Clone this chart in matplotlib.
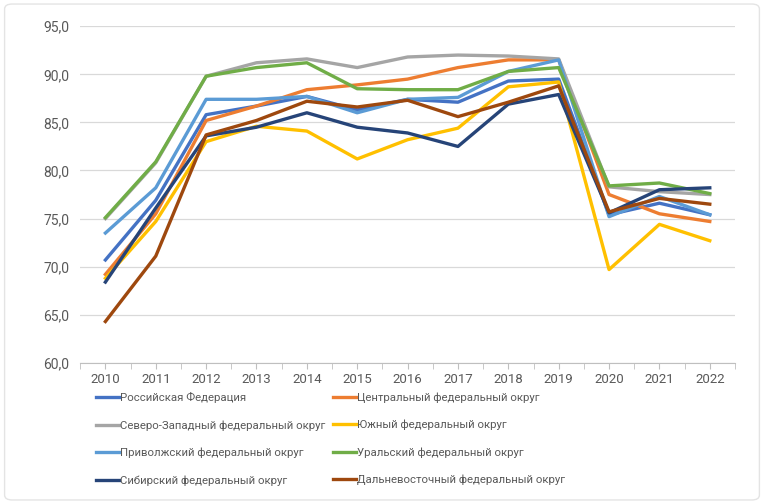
import matplotlib
matplotlib.use("Agg")
import matplotlib.pyplot as plt
from matplotlib.patches import FancyBboxPatch
from matplotlib.ticker import FuncFormatter, MultipleLocator
import numpy as np

plt.rcParams['font.family'] = ['Roboto', 'DejaVu Sans']

years = list(range(2010, 2023))

rf = [70.7, 76.9, 85.8, 86.7, 87.7, 86.3, 87.4, 87.1, 89.3, 89.5, 75.4, 76.6, 75.4]
central = [69.2, 75.5, 85.2, 86.7, 88.4, 88.9, 89.5, 90.7, 91.5, 91.5, 77.5, 75.5, 74.7]
nw = [75.0, 80.8, 89.8, 91.2, 91.6, 90.7, 91.8, 92.0, 91.9, 91.6, 78.3, 77.8, 77.5]
south = [68.8, 74.7, 83.0, 84.6, 84.1, 81.2, 83.2, 84.4, 88.7, 89.2, 69.7, 74.4, 72.7]
volga = [73.5, 78.2, 87.4, 87.4, 87.7, 86.0, 87.4, 87.6, 90.3, 91.5, 75.2, 77.3, 75.4]
ural = [75.1, 80.9, 89.8, 90.7, 91.2, 88.5, 88.4, 88.4, 90.3, 90.7, 78.4, 78.7, 77.6]
siberia = [68.4, 76.1, 83.6, 84.5, 86.0, 84.5, 83.9, 82.5, 86.9, 87.9, 75.6, 78.0, 78.2]
fareast = [64.3, 71.1, 83.7, 85.2, 87.2, 86.6, 87.3, 85.6, 87.1, 88.8, 75.7, 77.1, 76.5]

names = ["Российская Федерация", "Центральный федеральный округ",
         "Северо-Западный федеральный округ", "Южный федеральный округ",
         "Приволжский федеральный округ", "Уральский федеральный округ",
         "Сибирский федеральный округ", "Дальневосточный федеральный округ"]
series = [rf, central, nw, south, volga, ural, siberia, fareast]
colors = ["#4472C4", "#ED7D31", "#A5A5A5", "#FFC000",
          "#5B9BD5", "#70AD47", "#264478", "#9E480E"]

fig = plt.figure(figsize=(7.64, 5.04), dpi=100)
ax = fig.add_axes([0.105, 0.280, 0.857, 0.668])

x = np.arange(len(years))
lines = []
for vals, name, c in zip(series, names, colors):
    ln, = ax.plot(x, vals, color=c, lw=2.4, label=name, solid_joinstyle='round')
    lines.append(ln)

ax.set_xlim(-0.5, len(years) - 0.5)
ax.set_ylim(60, 95)
ax.yaxis.set_major_locator(MultipleLocator(5))
ax.yaxis.set_major_formatter(FuncFormatter(lambda v, p: f"{v:.1f}".replace(".", ",")))
ax.set_xticks(x)
ax.set_xticklabels([str(y) for y in years])
ax.set_xticks(np.arange(-0.5, len(years), 1.0), minor=True)

ax.grid(axis='y', color='#D9D9D9', lw=0.9)
ax.set_axisbelow(True)
for s in ['top', 'right', 'left']:
    ax.spines[s].set_visible(False)
ax.spines['bottom'].set_color('#BFBFBF')
ax.tick_params(axis='y', length=0, colors='#595959', labelsize=10, pad=8)
ax.tick_params(axis='x', which='both', length=4, color='#BFBFBF', colors='#595959',
               labelsize=9.5, pad=3)

# two single-column legends so the second column starts where it does in the original
col_left = [0, 2, 4, 6]
col_right = [1, 3, 5, 7]
for idx, x0 in [(col_left, 0.126), (col_right, 0.436)]:
    leg = fig.legend([lines[i] for i in idx], [names[i] for i in idx],
                     ncol=1, loc='upper left', bbox_to_anchor=(x0, 0.222),
                     frameon=False, fontsize=8.2, handlelength=2.0, handletextpad=0.1,
                     labelspacing=1.5, borderaxespad=0, borderpad=0)
    for t in leg.get_texts():
        t.set_color('#595959')

border = FancyBboxPatch((0.006, 0.008), 0.988, 0.984, boxstyle="round,pad=0,rounding_size=0.01",
                        transform=fig.transFigure, fill=False, ec='#E4E4E4', lw=1.0)
fig.patches.append(border)

fig.savefig("out.png", dpi=100)
